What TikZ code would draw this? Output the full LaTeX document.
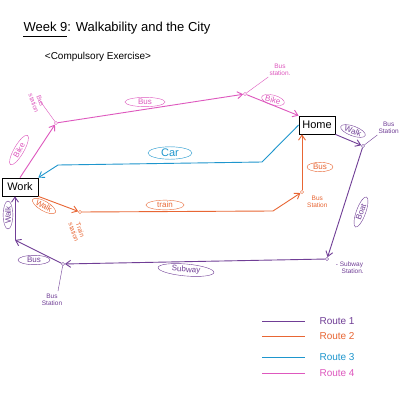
\documentclass[tikz,border=0pt]{standalone}
\usepackage{fontspec}
\setmainfont{Liberation Sans}
\usetikzlibrary{shapes.geometric,arrows.meta}

\definecolor{rone}{RGB}{112,62,150}
\definecolor{rtwo}{RGB}{232,102,52}
\definecolor{rthree}{RGB}{30,150,205}
\definecolor{rfour}{RGB}{222,88,190}

\tikzset{
  place/.style={draw=black,thick,minimum width=36pt,minimum height=18pt,inner sep=1pt,font=\fontsize{11}{12}\selectfont},
  station/.style={circle,draw,fill=white,inner sep=1.2pt},
  tag/.style={ellipse,draw,inner sep=0.5pt,font=\fontsize{8}{9}\selectfont},
  stop/.style={font=\fontsize{6.5}{7}\selectfont,align=center,inner sep=1pt},
  route/.style={line width=0.9pt,->}
}

\begin{document}
\begin{tikzpicture}[x=1pt,y=-1pt,>={Straight Barb[length=5pt,width=7pt]}]
  \useasboundingbox[fill=white] (0,0) rectangle (400,400);

  % heading
  \node[anchor=east,font=\fontsize{13}{15}\selectfont] (head) at (214,28) {Week 9: Walkability and the City};
  \draw (head.south west) ++(3,-1) -- ++(44,0);
  \node[font=\fontsize{10}{12}\selectfont] (sub) at (98,57) {\textless{}Compulsory Exercise\textgreater{}};

  % places
  \node[place] (home) at (317,125) {Home};
  \node[place] (work) at (20,187) {Work};

  % stations
  \node[station,draw=rfour] (bsa) at (56,123) {};
  \node[station,draw=rfour] (bsb) at (245,94) {};
  \node[station,draw=rtwo] (ts) at (80,212) {};
  \node[station,draw=rtwo] (bsc) at (302,192) {};
  \node[station,draw=rone] (bsd) at (363,146) {};
  \node[station,draw=rone] (ss) at (327,259) {};
  \node[station,draw=rone] (bse) at (63,264) {};
  \coordinate (cb1) at (262,162);
  \coordinate (cb2) at (58,165);
  \coordinate (tb1) at (273,211);
  \coordinate (wb1) at (15,240);

  % route 4
  \draw[route,rfour] (work.north) -- (bsa);
  \draw[route,rfour] (bsa) -- (bsb);
  \draw[route,rfour] (bsb) -- (home.north west);
  \node[stop,text=rfour,rotate=-70] (lbsa) at (37,102) {Bus\\station};
  \node[stop,text=rfour] (lbsb) at (280,70) {Bus\\station.};
  \draw[rfour] (lbsa.west) ++(6,8) -- (bsa);
  \draw[rfour] (lbsb.south west) -- (bsb);
  \node[tag,draw=rfour,text=rfour,minimum width=40pt] (t1) at (145,102) {Bus};
  \node[tag,draw=rfour,text=rfour,rotate=-15] (t2) at (273,100) {Bike};
  \node[tag,draw=rfour,text=rfour,rotate=60,minimum width=34pt] (t3) at (19,150) {Bike};

  % route 3
  \draw[route,rthree] (home.west) -- (cb1) -- (cb2) -- (work.north east);
  \node[tag,draw=rthree,text=rthree,minimum width=44pt,font=\fontsize{11}{12}\selectfont] (t4) at (170,153) {Car};

  % route 2
  \draw[route,rtwo] (work.south east) -- (ts);
  \draw[route,rtwo] (ts) -- (tb1) -- (bsc);
  \draw[route,rtwo] (bsc) -- (home.south -| bsc);
  \node[stop,text=rtwo,rotate=-70] (lts) at (77,231) {Train\\station};
  \node[stop,text=rtwo,anchor=west] (lbsc) at (306,202) {Bus\\Station};
  \node[tag,draw=rtwo,text=rtwo,rotate=-30] (t5) at (44,206) {Walk};
  \node[tag,draw=rtwo,text=rtwo,minimum width=38pt] (t6) at (165,205) {train};
  \node[tag,draw=rtwo,text=rtwo,minimum width=26pt] (t7) at (320,167) {Bus};

  % route 1
  \draw[route,rone] (home.south east) -- (bsd);
  \draw[route,rone] (bsd) -- (ss);
  \draw[route,rone] (ss) -- (bse);
  \draw[route,rone] (bse) -- (wb1);
  \draw[route,rone] (wb1) -- (work.south -| wb1);
  \node[stop,text=rone,anchor=east] (lbsd) at (400,128) {Bus\\Station};
  \draw[rone] (bsd) -- (lbsd.south west);
  \node[stop,text=rone,anchor=west] (lss) at (334,268) {- Subway\\\quad Station.};
  \node[stop,text=rone] (lbse) at (52,300) {Bus\\Station};
  \draw[rone] (lbse.north) ++(6,-2) -- (bse);
  \node[tag,draw=rone,text=rone,rotate=-20] (t8) at (353,131) {Walk};
  \node[tag,draw=rone,text=rone,rotate=70,minimum width=32pt] (t9) at (361,212) {Boat};
  \node[tag,draw=rone,text=rone,rotate=-5,minimum width=56pt] (t10) at (186,270) {Subway};
  \node[tag,draw=rone,text=rone,minimum width=32pt] (t11) at (34,260) {Bus};
  \node[tag,draw=rone,text=rone,rotate=90,minimum width=28pt] (t12) at (8,215) {Walk};

  % key
  \foreach \c/\n/\y in {rone/1/321,rtwo/2/336,rthree/3/357,rfour/4/373}{
    \coordinate (ls\n) at (262,\y);
    \draw[\c,line width=0.9pt] (ls\n) -- ++(43,0);
    \node[text=\c,anchor=west,font=\fontsize{10}{12}\selectfont] (lt\n) at (316,\y) {Route \n};
  }
\end{tikzpicture}
\end{document}
